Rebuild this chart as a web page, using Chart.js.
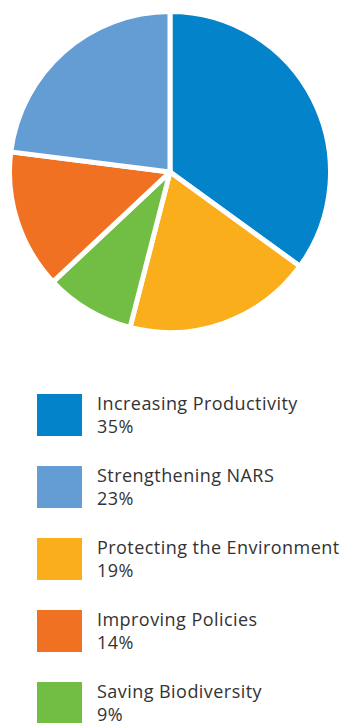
<!DOCTYPE html>
<html>
<head>
<meta charset="utf-8">
<script src="https://cdn.jsdelivr.net/npm/chart.js@4"></script>
<style>
  html, body { margin: 0; padding: 0; background: #fff; }
  body { width: 347px; height: 723px; position: relative; overflow: hidden; font-family: "Open Sans", sans-serif; color: #333; }
  #pieBox { position: absolute; left: 7px; top: 9px; width: 326px; height: 326px; }
  .row { position: absolute; left: 37px; }
  .swatch { position: absolute; left: 0; top: 0; width: 45px; height: 42px; }
  .label { position: absolute; left: 60px; top: -2px; font-size: 18px; line-height: 22.5px; letter-spacing: 0.45px; white-space: nowrap; }
</style>
</head>
<body>
<div id="pieBox"><canvas id="pie"></canvas></div>
<div id="legend"></div>
<script>
// slices, clockwise from 12 o'clock
const categories = ["Increasing Productivity", "Protecting the Environment", "Saving Biodiversity", "Improving Policies", "Strengthening NARS"];
const shares = [35, 19, 9, 14, 23];
const colors = ["#0383c9", "#fbae1b", "#72be44", "#f07122", "#649dd4"];

// legend listing order
const legendOrder = ["Increasing Productivity", "Strengthening NARS", "Protecting the Environment", "Improving Policies", "Saving Biodiversity"];

new Chart(document.getElementById("pie"), {
  type: "pie",
  data: {
    labels: categories,
    datasets: [{
      data: shares,
      backgroundColor: colors,
      borderColor: "#fff",
      borderWidth: 5
    }]
  },
  options: {
    responsive: true,
    maintainAspectRatio: false,
    animation: false,
    devicePixelRatio: 1,
    plugins: {
      legend: { display: false },
      tooltip: { enabled: false }
    }
  }
});

const legend = document.getElementById("legend");
legendOrder.forEach(function (name, i) {
  const k = categories.indexOf(name);
  const row = document.createElement("div");
  row.className = "row";
  row.style.top = (394 + i * 72) + "px";
  row.innerHTML = '<div class="swatch" style="background:' + colors[k] + '"></div>' +
    '<div class="label">' + name + '<br>' + shares[k] + '%</div>';
  legend.appendChild(row);
});
</script>
</body>
</html>
